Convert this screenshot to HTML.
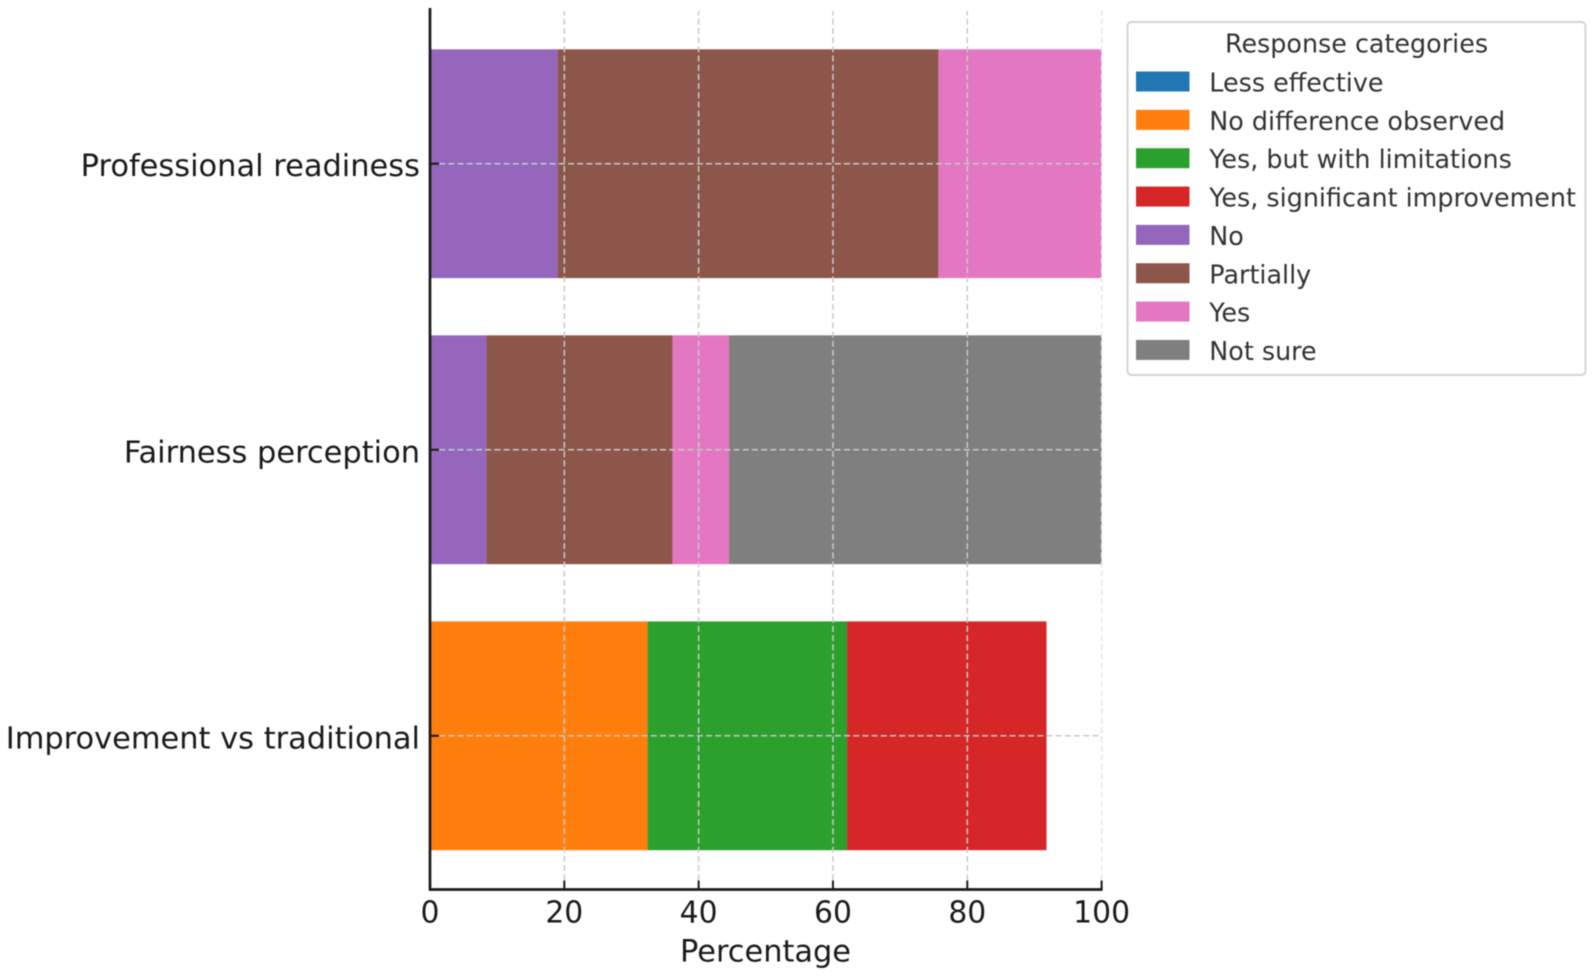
<!DOCTYPE html>
<html lang="en">
<head>
<meta charset="utf-8">
<title>Response categories chart</title>
<style>
html,body{margin:0;padding:0;background:#fff;width:1595px;height:976px;overflow:hidden}
svg{display:block;font-family:"DejaVu Sans","Liberation Sans",sans-serif;filter:blur(0.45px)}
</style>
</head>
<body>
<svg id="chart" width="1595" height="976" viewBox="0 0 1595 976" xmlns="http://www.w3.org/2000/svg"></svg>
<script>
const categories = ['Improvement vs traditional', 'Fairness perception', 'Professional readiness'];
const responseLabels = ['Less effective', 'No difference observed', 'Yes, but with limitations', 'Yes, significant improvement', 'No', 'Partially', 'Yes', 'Not sure'];
const responseColors = ['#1f77b4', '#ff7f0e', '#2ca02c', '#d62728', '#9467bd', '#8c564b', '#e377c2', '#7f7f7f'];
const lessEffective = [0, 0, 0];
const noDifference = [32.4, 0, 0];
const yesLimitations = [29.7, 0, 0];
const yesSignificant = [29.7, 0, 0];
const noValues = [0, 8.4, 19];
const partially = [0, 27.7, 56.7];
const yesValues = [0, 8.4, 24.3];
const notSure = [0, 55.5, 0];
const seriesValues = [lessEffective, noDifference, yesLimitations, yesSignificant, noValues, partially, yesValues, notSure];
const xTicks = [0, 20, 40, 60, 80, 100];

const svg = document.getElementById('chart');
const NS = 'http://www.w3.org/2000/svg';
const plot = {left: 430, right: 1101.6, top: 8, bottom: 889.5};
const barHeight = 228.8;
const x = v => plot.left + (plot.right - plot.left) * v / 100;
const y = i => 735.8 - 286.05 * i;

function mk(tag, attrs, parent) {
  const el = document.createElementNS(NS, tag);
  for (const k in attrs) el.setAttribute(k, attrs[k]);
  (parent || svg).appendChild(el);
  return el;
}

/* bars */
const barsGroup = mk('g', {});


categories.forEach((cat, i) => {
  let acc = 0;
  seriesValues.forEach((vals, s) => {
    const v = vals[i];
    if (v > 0) {
      const r = mk('rect', {x: x(acc), y: y(i) - barHeight / 2, width: x(acc + v) - x(acc), height: barHeight, fill: responseColors[s]}, barsGroup);
      
      
    }
    acc += v;
  });
});

/* grid */
const gridGroup = mk('g', {stroke: '#c9c9c9', 'stroke-width': 1.5, 'stroke-dasharray': '6 3.2', fill: 'none'});


xTicks.forEach(t => {
  if (t === 0) return;
  const l = mk('line', {x1: x(t), x2: x(t), y1: plot.bottom, y2: plot.top + 3}, gridGroup);
  
  
  if (t === 100) l.setAttribute('stroke', '#e4e4e4');
});
categories.forEach((cat, i) => {
  const l = mk('line', {x1: plot.left, x2: plot.right, y1: y(i), y2: y(i)}, gridGroup);
  
  
});

/* axes */
const axisGroup = mk('g', {stroke: '#1a1a1a', fill: 'none'});


const ySpine = mk('line', {x1: plot.left, x2: plot.left, y1: plot.top, y2: plot.bottom + 1, 'stroke-width': 2.7}, axisGroup);


const xSpine = mk('line', {x1: plot.left - 1, x2: plot.right + 1, y1: plot.bottom, y2: plot.bottom, 'stroke-width': 2.7}, axisGroup);



xTicks.forEach(t => {
  const m = mk('line', {x1: x(t), x2: x(t), y1: plot.bottom, y2: plot.bottom - 9, 'stroke-width': 2}, axisGroup);
  
  
  const lab = mk('text', {x: x(t), y: 922.5, 'text-anchor': 'middle', 'font-size': 29.8, fill: '#1a1a1a'});
  lab.textContent = t;
  
  
});
categories.forEach((cat, i) => {
  const m = mk('line', {x1: plot.left, x2: plot.left + 9, y1: y(i), y2: y(i), 'stroke-width': 2}, axisGroup);
  
  
  const lab = mk('text', {x: 420, y: y(i) + 12.5, 'text-anchor': 'end', 'font-size': 30.45, fill: '#1a1a1a'});
  lab.textContent = cat;
  
  
});

const xTitle = mk('text', {x: 765.5, y: 961.5, 'text-anchor': 'middle', 'font-size': 30.4, fill: '#1a1a1a'});
xTitle.textContent = 'Percentage';



/* legend */
const legend = mk('g', {});


const frame = mk('rect', {x: 1127.5, y: 22, width: 458, height: 353, rx: 4, ry: 4, fill: '#fff', stroke: '#d4d4d4', 'stroke-width': 2}, legend);


const legendTitle = mk('text', {x: 1356.5, y: 52.5, 'text-anchor': 'middle', 'font-size': 25.4, fill: '#333'}, legend);
legendTitle.textContent = 'Response categories';


responseLabels.forEach((label, i) => {
  const top = 71.5 + 38.35 * i;
  const sw = mk('rect', {x: 1136, y: top, width: 53.5, height: 20, fill: responseColors[i]}, legend);
  
  
  const tx = mk('text', {x: 1209.3, y: top + 20, 'font-size': 25.4, fill: '#333'}, legend);
  tx.textContent = label;
  
  
});
</script>
</body>
</html>
